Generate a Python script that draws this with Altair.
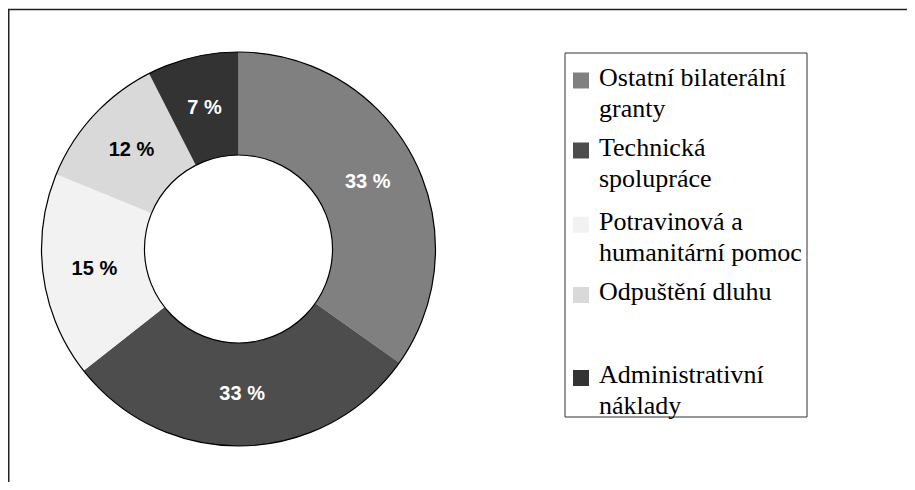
import math
import altair as alt
import pandas as pd

# ---- data ----
categories = [
    "Ostatní bilaterální granty",
    "Technická spolupráce",
    "Potravinová a humanitární pomoc",
    "Odpuštění dluhu",
    "Administrativní náklady",
]
legend_labels = [
    "Ostatní bilaterální\ngranty",
    "Technická\nspolupráce",
    "Potravinová a\nhumanitární pomoc",
    "Odpuštění dluhu",
    "Administrativní\nnáklady",
]
values = [34.8, 29.6, 16.8, 11.3, 7.5]
# printed labels
pct_labels = ["33 %", "33 %", "15 %", "12 %", "7 %"]
colors = ["#808080", "#4d4d4d", "#f2f2f2", "#d9d9d9", "#333333"]
dark_slices = ["Ostatní bilaterální granty", "Technická spolupráce", "Administrativní náklady"]

df = pd.DataFrame({
    "category": categories,
    "legend": legend_labels,
    "value": values,
    "label": pct_labels,
    "idx": list(range(len(categories))),
})
one = pd.DataFrame({"a": [0]})

CX, CY = 230.5, 241
R_OUT, R_IN = 197, 94

color_scale = alt.Scale(domain=categories, range=colors)
theta = alt.Theta("value:Q", stack=True)
order = alt.Order("idx:Q")

arcs = alt.Chart(df).mark_arc(radius=R_OUT, radius2=R_IN).encode(
    theta=theta,
    order=order,
    color=alt.Color("category:N", scale=color_scale, legend=None),
    x=alt.value(CX),
    y=alt.value(CY),
)

ring = alt.Chart(one).mark_arc(
    radius=R_OUT, radius2=R_IN, theta=0, theta2=2 * math.pi,
    fillOpacity=0, stroke="black", strokeWidth=1.2,
).encode(x=alt.value(CX), y=alt.value(CY))

test = " || ".join([f"datum.category === '{c}'" for c in dark_slices])
labels = alt.Chart(df).mark_text(
    radius=(R_OUT + R_IN) / 2, font="Liberation Sans", fontSize=20, fontWeight="bold",
).encode(
    theta=theta,
    order=order,
    text="label:N",
    color=alt.condition(test, alt.value("white"), alt.value("black")),
    x=alt.value(CX),
    y=alt.value(CY),
)

legend_box = alt.Chart(one).mark_rect(
    fillOpacity=0, stroke="#333333", strokeWidth=1
).encode(x=alt.value(557), x2=alt.value(799), y=alt.value(45), y2=alt.value(409))

# legend slot layout (piecewise scale range)
ypos = alt.Y(
    "idx:Q",
    scale=alt.Scale(domain=[0, 1, 2, 3, 4], range=[72.5, 142.5, 216.7, 287, 370]),
    axis=None,
)

legend_sym = alt.Chart(df).mark_square(size=256, opacity=1).encode(
    x=alt.value(573),
    y=ypos,
    color=alt.Color("category:N", scale=color_scale, legend=None),
)

legend_txt = alt.Chart(df).mark_text(
    align="left", baseline="alphabetic", dy=5, lineBreak="\n", lineHeight=31,
    font="Liberation Serif", fontSize=26, color="black",
).encode(x=alt.value(591), y=ypos, text="legend:N")

frame_top = alt.Chart(one).mark_rule(color="#222222", strokeWidth=1.5).encode(
    x=alt.value(0), x2=alt.value(899), y=alt.value(1.5)
)
frame_left = alt.Chart(one).mark_rule(color="#222222", strokeWidth=1.5).encode(
    x=alt.value(0.75), y=alt.value(1.5), y2=alt.value(474)
)

chart = alt.layer(
    arcs, ring, labels, legend_box, legend_sym, legend_txt, frame_top, frame_left
).properties(
    width=899, height=474, padding=0, autosize=alt.AutoSizeParams(type="none")
).configure_view(stroke=None)

chart.save("out.html", embed_options={"renderer": "svg", "actions": False})
